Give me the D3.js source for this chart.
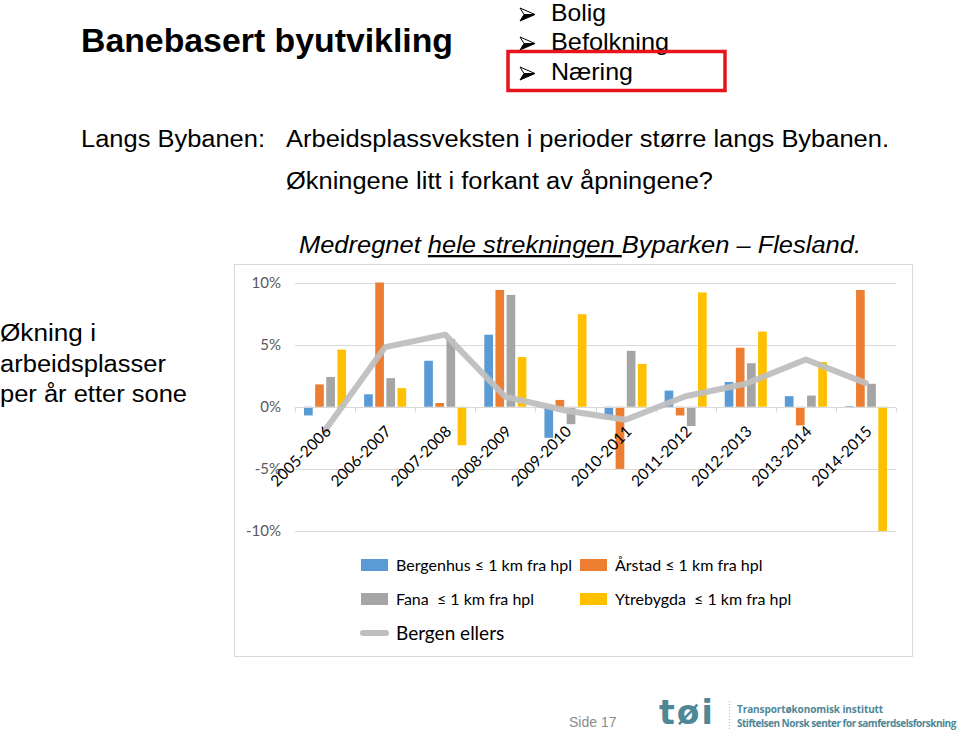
<!DOCTYPE html>
<html lang="no">
  <head>
    <meta charset="UTF-8" />
    <title>Banebasert byutvikling</title>
    <style>
      body { margin: 0; background: #fff; }
      svg { display: block; }
      text { white-space: pre; }
    </style>
  </head>
  <body>
    <svg width="960" height="734"></svg>

    <script src="https://d3js.org/d3.v7.min.js"></script>
    <script>
      // Data
      const periods = ["2005-2006", "2006-2007", "2007-2008", "2008-2009", "2009-2010",
        "2010-2011", "2011-2012", "2012-2013", "2013-2014", "2014-2015"];
      const bergenhus = [-0.7, 1.0, 3.7, 5.8, -2.5, -1.0, 1.3, 2.0, 0.85, 0.05];
      const arstad = [1.8, 10.0, 0.3, 9.4, 0.55, -5.0, -0.7, 4.75, -1.5, 9.4];
      const fana = [2.4, 2.3, 5.45, 9.0, -1.4, 4.5, -1.55, 3.5, 0.9, 1.85];
      const ytrebygda = [4.6, 1.5, -3.1, 4.0, 7.45, 3.45, 9.2, 6.05, 3.6, -10.0];
      const bergenEllers = [-1.9, 4.8, 5.8, 0.8, -0.3, -1.05, 0.85, 1.85, 3.8, 1.9];
      const yTicks = [10, 5, 0, -5, -10];

      const series = [
        { name: "Bergenhus ≤ 1 km fra hpl", values: bergenhus, color: "#5B9BD5" },
        { name: "Årstad ≤ 1 km fra hpl", values: arstad, color: "#ED7D31" },
        { name: "Fana  ≤ 1 km fra hpl", values: fana, color: "#A5A5A5" },
        { name: "Ytrebygda  ≤ 1 km fra hpl", values: ytrebygda, color: "#FFC000" },
      ];

      const svg = d3.select("svg");
      const slideFont = "'Liberation Sans', Arial, sans-serif";
      const chartFont = "Lato, 'Open Sans', sans-serif";

      // helper for slide text, stretched to the width seen on the slide
      function slideText(x, y, size, str, width) {
        const t = svg.append("text").attr("x", x).attr("y", y)
          .style("font-family", slideFont).style("font-size", size + "px").text(str);
        if (width) t.attr("textLength", width).attr("lengthAdjust", "spacingAndGlyphs");
        return t;
      }

      // Slide header
      slideText(81, 52, 33, "Banebasert byutvikling", 372).style("font-weight", "bold");

      const bullets = ["Bolig", "Befolkning", "Næring"];
      const bulletW = [55, 118, 82];
      bullets.forEach((b, i) => {
        const by = [21, 50, 80][i];
        const g = svg.append("g").attr("transform", `translate(520,${by - 13})`);
        g.append("path").attr("d", "M0,0 L15,6.5 L4,6.5 Z").attr("fill", "#fff").attr("stroke", "#000").attr("stroke-width", 1);
        g.append("path").attr("d", "M0,13 L15,6.5 L4,6.5 Z").attr("fill", "#000").attr("stroke", "#000").attr("stroke-width", 1);
        slideText(551, by, 24, b, bulletW[i]);
      });
      svg.append("rect").attr("x", 508).attr("y", 51.5).attr("width", 217).attr("height", 39)
        .attr("fill", "none").attr("stroke", "#E8141B").attr("stroke-width", 3.5);

      slideText(81, 147, 23, "Langs Bybanen:", 184);
      slideText(286, 147, 23, "Arbeidsplassveksten i perioder større langs Bybanen.", 603);
      slideText(286, 189, 23, "Økningene litt i forkant av åpningene?", 427);

      const med = slideText(299, 253, 23, null, 562).style("font-style", "italic");
      med.append("tspan").text("Medregnet ");
      med.append("tspan").style("text-decoration", "underline").text("hele strekningen ");
      med.append("tspan").text("Byparken – Flesland.");

      slideText(0, 341, 23, "Økning i", 96);
      slideText(0, 372, 23, "arbeidsplasser", 166);
      slideText(0, 402, 23, "per år etter sone", 187);

      // Chart frame
      svg.append("rect").attr("x", 234.5).attr("y", 264.5).attr("width", 678).attr("height", 392)
        .attr("fill", "#fff").attr("stroke", "#D9D9D9").attr("stroke-width", 1);

      // Scales
      const x0 = d3.scaleBand().domain(periods).range([295, 896]).paddingInner(0.3).paddingOuter(0.15);
      const x1 = d3.scaleBand().domain(d3.range(series.length)).range([0, x0.bandwidth()]).paddingInner(0.22);
      const y = d3.scaleLinear().domain([-10, 10]).range([531, 282.5]);

      // Gridlines
      svg.append("g").selectAll("line").data(yTicks).join("line")
        .attr("x1", 295).attr("x2", 896)
        .attr("y1", (d) => Math.round(y(d)) + 0.5).attr("y2", (d) => Math.round(y(d)) + 0.5)
        .attr("stroke", "#D9D9D9").attr("stroke-width", 1);

      // Y axis labels
      const yAxis = d3.axisLeft(y).tickValues(yTicks).tickFormat((d) => d + "%").tickSize(0).tickPadding(14);
      const yg = svg.append("g").attr("transform", "translate(295,0)").call(yAxis);
      yg.select(".domain").remove();
      yg.selectAll("text").style("font-family", chartFont).style("font-size", "15px").attr("fill", "#595959");

      // Bars
      series.forEach((s, si) => {
        svg.append("g").selectAll("rect").data(s.values).join("rect")
          .attr("x", (d, i) => x0(periods[i]) + x1(si))
          .attr("width", x1.bandwidth())
          .attr("y", (d) => y(Math.max(0, d)))
          .attr("height", (d) => Math.abs(y(d) - y(0)))
          .attr("fill", s.color);
      });

      // Zero axis with ticks at category boundaries
      const zy = Math.round(y(0)) + 0.5;
      svg.append("line").attr("x1", 295).attr("x2", 896).attr("y1", zy).attr("y2", zy)
        .attr("stroke", "#D9D9D9");
      const bounds = d3.range(periods.length + 1).map((i) => 295 + i * x0.step());
      svg.append("g").selectAll("line").data(bounds).join("line")
        .attr("x1", (d) => Math.round(d) + 0.5).attr("x2", (d) => Math.round(d) + 0.5)
        .attr("y1", zy).attr("y2", zy + 5).attr("stroke", "#D9D9D9");

      // Line series
      const line = d3.line()
        .x((d, i) => x0(periods[i]) + x0.bandwidth() / 2)
        .y((d) => y(d));
      svg.append("path").datum(bergenEllers).attr("d", line)
        .attr("fill", "none").attr("stroke", "#BFBFBF").attr("stroke-width", 6)
        .attr("stroke-linejoin", "round").attr("stroke-linecap", "round").attr("opacity", 0.95);

      // Category labels
      svg.append("g").selectAll("text").data(periods).join("text")
        .attr("transform", (d) => `translate(${x0(d) + x0.bandwidth() / 2 + 7},${zy + 25}) rotate(-45)`)
        .attr("text-anchor", "end")
        .style("font-family", chartFont).style("font-size", "15.5px").attr("fill", "#000")
        .text((d) => d);

      // Legend
      const legendItems = [
        { name: series[0].name, color: series[0].color, x: 361, y: 565 },
        { name: series[1].name, color: series[1].color, x: 580, y: 565 },
        { name: series[2].name, color: series[2].color, x: 361, y: 599 },
        { name: series[3].name, color: series[3].color, x: 580, y: 599 },
      ];
      const legend = svg.append("g");
      legendItems.forEach((it) => {
        legend.append("rect").attr("x", it.x).attr("y", it.y - 6).attr("width", 27).attr("height", 12)
          .attr("fill", it.color);
        legend.append("text").attr("x", it.x + 35).attr("y", it.y + 6)
          .style("font-family", chartFont).style("font-size", "16px").attr("fill", "#000")
          .text(it.name);
      });
      legend.append("line").attr("x1", 363).attr("x2", 386).attr("y1", 633).attr("y2", 633)
        .attr("stroke", "#BFBFBF").attr("stroke-width", 6).attr("stroke-linecap", "round");
      legend.append("text").attr("x", 396).attr("y", 640)
        .style("font-family", chartFont).style("font-size", "19px").attr("fill", "#000")
        .text("Bergen ellers");

      // Footer
      svg.append("text").attr("x", 569).attr("y", 727)
        .style("font-family", slideFont).style("font-size", "14px").attr("fill", "#8C8C8C")
        .text("Side 17");
      svg.append("text").attr("x", 659).attr("y", 724)
        .style("font-family", "'DejaVu Sans', sans-serif").style("font-size", "33px").style("font-weight", "bold")
        .style("letter-spacing", "2px").attr("fill", "#4E8796")
        .text("tøi");
      svg.append("line").attr("x1", 729.5).attr("x2", 729.5).attr("y1", 701).attr("y2", 731)
        .attr("stroke", "#9FBFC7").attr("stroke-dasharray", "1,2");
      svg.append("text").attr("x", 737).attr("y", 713)
        .style("font-family", "'Open Sans', sans-serif").style("font-size", "10px").style("font-weight", "bold")
        .style("letter-spacing", "-0.1px").attr("fill", "#4E8796")
        .text("Transportøkonomisk institutt");
      svg.append("text").attr("x", 737).attr("y", 727)
        .style("font-family", "'Open Sans', sans-serif").style("font-size", "10px").style("font-weight", "bold")
        .style("letter-spacing", "-0.5px").attr("fill", "#4E8796")
        .text("Stiftelsen Norsk senter for samferdselsforskning");
    </script>
  </body>
</html>
